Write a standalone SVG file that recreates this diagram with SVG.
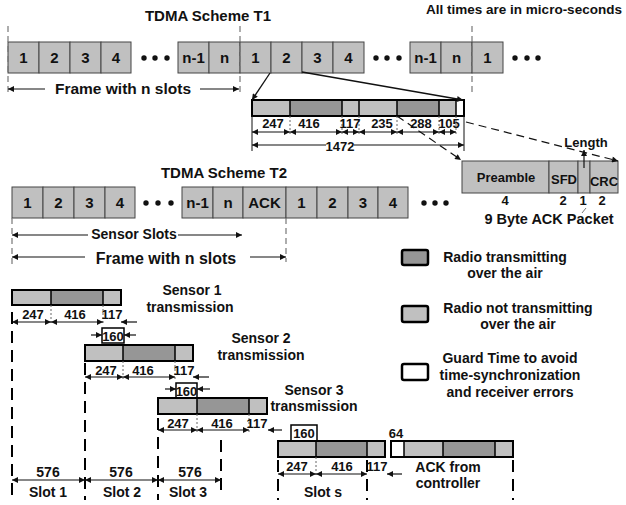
<svg xmlns="http://www.w3.org/2000/svg" width="626" height="505" viewBox="0 0 626 505">
<style>
text{font-family:"Liberation Sans",Arial,sans-serif;font-weight:bold;fill:#111}
.t15{font-size:15px}
.t14{font-size:14px}
.t13{font-size:13px}
.m{text-anchor:middle}
.slot{fill:#c0c0c0;stroke:#444;stroke-width:1}
.lt{fill:#c0c0c0}
.dk{fill:#969696}
.wh{fill:#fff}
.bar{fill:none;stroke:#000;stroke-width:2}
.div{stroke:#000;stroke-width:1.5}
.dim{stroke:#111;stroke-width:1.2;fill:none}
.vd{stroke:#777;stroke-width:1.2;stroke-dasharray:6 4;fill:none}
.tick{stroke:#666;stroke-width:1;stroke-dasharray:2 2}
.bd{stroke:#000;stroke-width:2;stroke-dasharray:12 7;fill:none}
.ptr{stroke:#111;stroke-width:1.3;fill:none}
.dsh{stroke:#111;stroke-width:1.2;stroke-dasharray:8 5;fill:none}
.lg{stroke:#000;stroke-width:2.5}
</style>
<defs>
<marker id="ah" viewBox="0 0 10 10" refX="10" refY="5" markerWidth="8" markerHeight="6" orient="auto-start-reverse" markerUnits="userSpaceOnUse"><path d="M0,0 L10,5 L0,10 z" fill="#111"/></marker>
</defs>

<text class="t15 m" x="208" y="21">TDMA Scheme T1</text>
<text class="m" x="524" y="14" style="font-size:13.5px">All times are in micro-seconds</text>

<!-- T1 row -->
<g id="t1-row">
<rect class="slot" x="8" y="42" width="31" height="31"/><rect class="slot" x="39" y="42" width="31" height="31"/><rect class="slot" x="70" y="42" width="31" height="31"/><rect class="slot" x="101" y="42" width="30" height="31"/>
<rect class="slot" x="178" y="42" width="31" height="31"/><rect class="slot" x="209" y="42" width="31" height="31"/><rect class="slot" x="240" y="42" width="31" height="31"/><rect class="slot" x="271" y="42" width="31" height="31"/><rect class="slot" x="302" y="42" width="31" height="31"/><rect class="slot" x="333" y="42" width="31" height="31"/>
<rect class="slot" x="410" y="42" width="31" height="31"/><rect class="slot" x="441" y="42" width="31" height="31"/><rect class="slot" x="472" y="42" width="31" height="31"/>
<g class="t15 m">
<text x="23.5" y="63">1</text><text x="54.5" y="63">2</text><text x="85.5" y="63">3</text><text x="116" y="63">4</text>
<text x="193.5" y="63">n-1</text><text x="224.5" y="63">n</text><text x="255.5" y="63">1</text><text x="286.5" y="63">2</text><text x="317.5" y="63">3</text><text x="348.5" y="63">4</text>
<text x="425.5" y="63">n-1</text><text x="456.5" y="63">n</text><text x="487.5" y="63">1</text>
</g>
<g fill="#111"><circle cx="144" cy="58" r="2.7"/><circle cx="155" cy="58" r="2.7"/><circle cx="167" cy="58" r="2.7"/>
<circle cx="376" cy="58" r="2.7"/><circle cx="387" cy="58" r="2.7"/><circle cx="399" cy="58" r="2.7"/>
<circle cx="515" cy="58" r="2.7"/><circle cx="527" cy="58" r="2.7"/><circle cx="538" cy="58" r="2.7"/></g>
</g>
<g id="t1-frame">
<line class="vd" x1="8" y1="26" x2="8" y2="93"/><line class="vd" x1="240" y1="26" x2="240" y2="93"/><line class="vd" x1="472" y1="26" x2="472" y2="96"/>
<line class="dim" x1="45" y1="89" x2="8" y2="89" marker-end="url(#ah)"/><line class="dim" x1="200" y1="89" x2="239" y2="89" marker-end="url(#ah)"/>
<text class="m" x="123" y="94" style="font-size:15.5px">Frame with n slots</text>
</g>

<!-- T1 packet detail -->
<g id="t1-packet">
<rect class="lt" x="252" y="100" width="38" height="16"/><rect class="dk" x="290" y="100" width="52" height="16"/><rect class="lt" x="342" y="100" width="17" height="16"/><rect class="lt" x="359" y="100" width="38" height="16"/><rect class="dk" x="397" y="100" width="42" height="16"/><rect class="lt" x="439" y="100" width="17" height="16"/><rect class="wh" x="456" y="100" width="8" height="16"/>
<path class="div" d="M290,100V116M342,100V116M359,100V116M397,100V116M439,100V116M456,100V116"/>
<rect class="bar" x="252" y="100" width="212" height="16"/>
<path class="tick" d="M290,116V136M342,116V136M359,116V136M397,116V136M439,116V136M456,116V136"/>
<path stroke="#111" stroke-width="1" d="M252,116V151M464,116V151"/>
<g class="dim">
<line x1="252" y1="132" x2="290" y2="132" marker-start="url(#ah)" marker-end="url(#ah)"/>
<line x1="290" y1="132" x2="342" y2="132" marker-start="url(#ah)" marker-end="url(#ah)"/>
<line x1="342" y1="132" x2="359" y2="132" marker-start="url(#ah)" marker-end="url(#ah)"/>
<line x1="359" y1="132" x2="397" y2="132" marker-start="url(#ah)" marker-end="url(#ah)"/>
<line x1="397" y1="132" x2="439" y2="132" marker-start="url(#ah)" marker-end="url(#ah)"/>
<line x1="439" y1="132" x2="456" y2="132" marker-start="url(#ah)" marker-end="url(#ah)"/>
<line x1="252" y1="145" x2="464" y2="145" marker-start="url(#ah)" marker-end="url(#ah)"/>
</g>
<rect x="326" y="139" width="28" height="13" fill="#fff"/>
<g class="t13 m">
<text x="273" y="128">247</text><text x="309" y="128">416</text><text x="350" y="128">117</text><text x="382" y="128">235</text><text x="421" y="128">288</text><text x="449" y="128">105</text>
<text x="340" y="151">1472</text>
</g>
</g>

<!-- ACK packet -->
<g id="ack-packet">
<rect class="slot" x="462" y="161" width="87" height="32"/><rect class="slot" x="549" y="161" width="29" height="32"/><rect class="slot" x="578" y="161" width="12" height="32"/><rect class="slot" x="590" y="161" width="28" height="32"/>
<text class="t13 m" x="506" y="182">Preamble</text><text class="t13 m" x="564" y="184">SFD</text><text class="t13 m" x="604" y="186">CRC</text>
<g class="t13 m"><text x="505" y="205">4</text><text x="563" y="205">2</text><text x="583" y="205">1</text><text x="602" y="205">2</text></g>
<line x1="586" y1="208" x2="582" y2="213" stroke="#777" stroke-width="1"/>
<text class="m" x="549" y="224" style="font-size:14.5px">9 Byte ACK  Packet</text>
<text class="t13 m" x="586" y="147">Length</text>
<line class="dim" x1="584" y1="168" x2="584" y2="150" marker-end="url(#ah)"/>
</g>

<!-- connectors -->
<g id="connectors">
<line class="ptr" x1="270" y1="73" x2="252" y2="100" marker-end="url(#ah)"/>
<line class="ptr" x1="302" y1="72" x2="463" y2="100" marker-end="url(#ah)"/>
<line class="dsh" x1="397" y1="116" x2="461" y2="160" marker-end="url(#ah)"/>
<line class="dsh" x1="466" y1="122" x2="618" y2="161" marker-end="url(#ah)"/>
</g>

<!-- T2 -->
<text class="t15 m" x="224" y="178">TDMA Scheme T2</text>
<g id="t2-row">
<rect class="slot" x="12" y="187" width="31" height="31"/><rect class="slot" x="43" y="187" width="31" height="31"/><rect class="slot" x="74" y="187" width="31" height="31"/><rect class="slot" x="105" y="187" width="30" height="31"/>
<rect class="slot" x="182" y="187" width="31" height="31"/><rect class="slot" x="213" y="187" width="30" height="31"/><rect class="slot" x="243" y="187" width="43" height="31"/><rect class="slot" x="286" y="187" width="31" height="31"/><rect class="slot" x="317" y="187" width="31" height="31"/><rect class="slot" x="348" y="187" width="30" height="31"/><rect class="slot" x="378" y="187" width="30" height="31"/>
<g class="t15 m">
<text x="27.5" y="208">1</text><text x="58.5" y="208">2</text><text x="89.5" y="208">3</text><text x="120" y="208">4</text>
<text x="197.5" y="208">n-1</text><text x="228" y="208">n</text><text x="264.5" y="208">ACK</text><text x="301.5" y="208">1</text><text x="332.5" y="208">2</text><text x="363" y="208">3</text><text x="393" y="208">4</text>
</g>
<g fill="#111"><circle cx="146" cy="203" r="2.7"/><circle cx="158" cy="203" r="2.7"/><circle cx="171" cy="203" r="2.7"/>
<circle cx="424" cy="203" r="2.7"/><circle cx="435" cy="203" r="2.7"/><circle cx="446" cy="203" r="2.7"/></g>
</g>
<g id="t2-frame">
<line class="vd" x1="12" y1="218" x2="12" y2="264"/><line class="vd" x1="286" y1="218" x2="286" y2="262"/>
<line class="dim" x1="88" y1="235" x2="12" y2="235" marker-end="url(#ah)"/><line class="dim" x1="178" y1="235" x2="242" y2="235" marker-end="url(#ah)"/>
<text class="t14 m" x="134" y="239">Sensor Slots</text>
<line class="dim" x1="85" y1="257" x2="12" y2="257" marker-end="url(#ah)"/><line class="dim" x1="250" y1="257" x2="286" y2="257" marker-end="url(#ah)"/>
<text class="m" x="166" y="264" style="font-size:16px">Frame with n slots</text>
</g>

<!-- Legend -->
<g id="legend">
<rect class="dk lg" x="402" y="250" width="26" height="15" rx="2"/>
<text class="t14 m" x="505" y="262">Radio transmitting</text><text class="t14 m" x="505" y="278">over the air</text>
<rect class="lt lg" x="402" y="306" width="26" height="16" rx="2"/>
<text class="t14 m" x="518" y="313">Radio not transmitting</text><text class="t14 m" x="518" y="329">over the air</text>
<rect class="wh lg" x="402" y="364" width="26" height="16" rx="2"/>
<text class="t14 m" x="510" y="363">Guard Time to avoid</text><text class="t14 m" x="510" y="380">time-synchronization</text><text class="t14 m" x="510" y="397">and receiver errors</text>
</g>

<!-- Sensor 1 -->
<g id="sensor1">
<rect class="lt" x="12" y="290" width="39" height="15"/><rect class="dk" x="51" y="290" width="52" height="15"/><rect class="lt" x="103" y="290" width="18" height="15"/>
<path class="div" d="M51,290V305M103,290V305"/><rect class="bar" x="12" y="290" width="109" height="15"/>
<path class="tick" d="M51,305V324M103,305V324"/>
<line class="dim" x1="12" y1="322" x2="51" y2="322" marker-start="url(#ah)" marker-end="url(#ah)"/>
<line class="dim" x1="51" y1="322" x2="103" y2="322" marker-start="url(#ah)" marker-end="url(#ah)"/>
<line class="dim" x1="137" y1="322" x2="121" y2="322" marker-end="url(#ah)"/>
<g class="t13 m"><text x="33" y="319">247</text><text x="75" y="319">416</text><text x="112" y="319">117</text></g>
<text class="t14 m" x="192" y="295">Sensor 1</text><text class="t14 m" x="190" y="312">transmission</text>
<rect x="102" y="328" width="22" height="15" fill="#fff" stroke="#000" stroke-width="1.5"/>
<text class="t13 m" x="113" y="341">160</text>
<line class="dim" x1="91" y1="335" x2="102" y2="335" marker-end="url(#ah)"/><line class="dim" x1="136" y1="335" x2="124" y2="335" marker-end="url(#ah)"/>
</g>

<!-- Sensor 2 -->
<g id="sensor2">
<rect class="lt" x="85" y="345" width="38" height="16"/><rect class="dk" x="123" y="345" width="52" height="16"/><rect class="lt" x="175" y="345" width="18" height="16"/>
<path class="div" d="M123,345V361M175,345V361"/><rect class="bar" x="85" y="345" width="108" height="16"/>
<path class="tick" d="M123,361V379M175,361V379"/>
<line class="dim" x1="85" y1="377" x2="123" y2="377" marker-start="url(#ah)" marker-end="url(#ah)"/>
<line class="dim" x1="123" y1="377" x2="175" y2="377" marker-start="url(#ah)" marker-end="url(#ah)"/>
<line class="dim" x1="209" y1="377" x2="193" y2="377" marker-end="url(#ah)"/>
<g class="t13 m"><text x="106" y="375">247</text><text x="143" y="375">416</text><text x="184" y="375">117</text></g>
<text class="t14 m" x="261" y="343">Sensor 2</text><text class="t14 m" x="261" y="360">transmission</text>
<rect x="176" y="383" width="21" height="15" fill="#fff" stroke="#000" stroke-width="1.5"/>
<text class="t13 m" x="186.5" y="396">160</text>
<line class="dim" x1="165" y1="389" x2="176" y2="389" marker-end="url(#ah)"/><line class="dim" x1="210" y1="389" x2="197" y2="389" marker-end="url(#ah)"/>
</g>

<!-- Sensor 3 -->
<g id="sensor3">
<rect class="lt" x="158" y="398" width="39" height="16"/><rect class="dk" x="197" y="398" width="52" height="16"/><rect class="lt" x="249" y="398" width="18" height="16"/>
<path class="div" d="M197,398V414M249,398V414"/><rect class="bar" x="158" y="398" width="109" height="16"/>
<path class="tick" d="M197,414V432M249,414V432"/>
<line class="dim" x1="158" y1="430" x2="197" y2="430" marker-start="url(#ah)" marker-end="url(#ah)"/>
<line class="dim" x1="197" y1="430" x2="249" y2="430" marker-start="url(#ah)" marker-end="url(#ah)"/>
<line class="dim" x1="282" y1="430" x2="268" y2="430" marker-end="url(#ah)"/>
<g class="t13 m"><text x="178" y="428">247</text><text x="222" y="428">416</text><text x="257" y="428">117</text></g>
<text class="t14 m" x="314" y="395">Sensor 3</text><text class="t14 m" x="314" y="411">transmission</text>
</g>

<!-- Slot s -->
<g id="sensor-s">
<rect x="291" y="425" width="26" height="16" fill="#fff" stroke="#000" stroke-width="1.5"/>
<text class="t13 m" x="304" y="438">160</text>
<rect class="lt" x="278" y="441" width="38" height="16"/><rect class="dk" x="316" y="441" width="51" height="16"/><rect class="lt" x="367" y="441" width="18" height="16"/>
<path class="div" d="M316,441V457M367,441V457"/><rect class="bar" x="278" y="441" width="107" height="16"/>
<path class="tick" d="M316,457V476"/>
<line class="dim" x1="278" y1="474" x2="316" y2="474" marker-start="url(#ah)" marker-end="url(#ah)"/>
<line class="dim" x1="316" y1="474" x2="367" y2="474" marker-start="url(#ah)" marker-end="url(#ah)"/>
<line class="dim" x1="402" y1="474" x2="387" y2="474" marker-end="url(#ah)"/>
<g class="t13 m"><text x="297" y="471">247</text><text x="342" y="471">416</text><text x="377" y="471">117</text></g>
<text class="t14 m" x="323" y="497">Slot s</text>
</g>

<!-- ACK from controller -->
<g id="ack-ctrl">
<text class="t13 m" x="396" y="438">64</text>
<rect class="wh" x="391" y="441" width="13" height="16"/><rect class="lt" x="404" y="441" width="39" height="16"/><rect class="dk" x="443" y="441" width="52" height="16"/><rect class="lt" x="495" y="441" width="18" height="16"/>
<path class="div" d="M404,441V457M443,441V457M495,441V457"/><rect class="bar" x="391" y="441" width="122" height="16"/>
<text class="t14 m" x="448" y="472">ACK from</text><text class="t14 m" x="448" y="488">controller</text>
</g>

<!-- slot boundaries -->
<g id="slots">
<path class="bd" d="M12,312V500M85,363V500M158,418V500M221,440V496M278,460V500M367,460V500M513,460V500"/>
<line class="dim" x1="12" y1="480" x2="85" y2="480" marker-start="url(#ah)" marker-end="url(#ah)"/>
<line class="dim" x1="85" y1="480" x2="158" y2="480" marker-start="url(#ah)" marker-end="url(#ah)"/>
<line class="dim" x1="158" y1="480" x2="221" y2="480" marker-start="url(#ah)" marker-end="url(#ah)"/>
<g class="t14 m"><text x="48" y="477">576</text><text x="121" y="477">576</text><text x="190" y="477">576</text>
<text x="48" y="497">Slot 1</text><text x="122" y="497">Slot 2</text><text x="188" y="497">Slot 3</text></g>
</g>
</svg>
